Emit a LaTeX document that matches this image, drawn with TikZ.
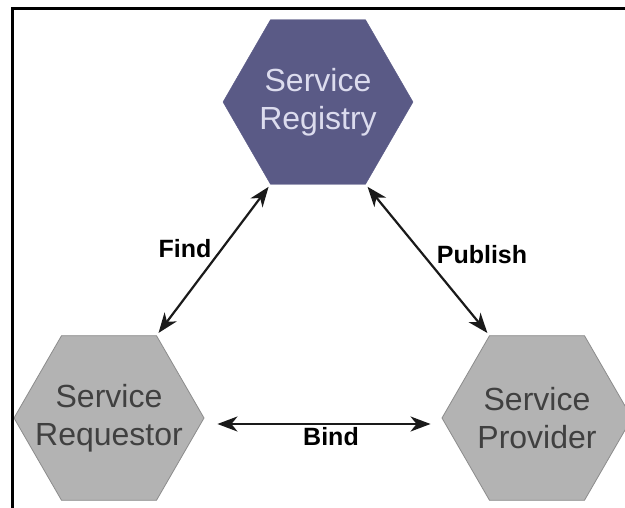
\documentclass[tikz,border=0pt]{standalone}
\usepackage{fontspec}
\setmainfont{Liberation Sans}
\usetikzlibrary{shapes.geometric,arrows.meta}
\definecolor{regfill}{HTML}{5A5A86}
\definecolor{regtext}{HTML}{DCDCEE}
\definecolor{grayfill}{HTML}{B3B3B3}
\definecolor{grayline}{HTML}{8C8C8C}
\definecolor{graytext}{HTML}{404040}
\definecolor{arrowcol}{HTML}{1A1A1A}
\begin{document}
\begin{tikzpicture}[x=1pt,y=-1pt,
  hexa/.style={regular polygon, regular polygon sides=6, minimum size=190pt, inner sep=0pt},
  hextext/.style={align=center, font=\fontsize{32}{38}\selectfont},
  reg/.style={hexa, fill=regfill, draw=regfill},
  grayhex/.style={hexa, fill=grayfill, draw=grayline, line width=0.8pt},
  conn/.style={draw=arrowcol, line width=2.2pt, {Stealth[length=20pt,width=15pt,inset=6pt]}-{Stealth[length=20pt,width=15pt,inset=6pt]}},
  lbl/.style={font=\bfseries\fontsize{25}{30}\selectfont, text=black}]
\useasboundingbox (0,0) rectangle (625,508);
\fill[white] (-20,-20) rectangle (650,530);
\node[reg, label={[hextext, text=regtext]center:Service\\Registry}] (registry) at (318,102) {};
\node[grayhex, label={[hextext, text=graytext]center:Service\\Requestor}] (requestor) at (109,418) {};
\node[grayhex, label={[hextext, text=graytext]center:Service\\Provider}] (provider) at (537,418) {};
\draw[conn, shorten <=3pt, shorten >=3pt] (registry.240) -- (requestor.60);
\draw[conn, shorten <=3pt, shorten >=3pt] (registry.300) -- (provider.120);
\draw[conn, shorten <=13pt, shorten >=11pt] ([yshift=-6pt]requestor.east) -- ([yshift=-6pt]provider.west);
\node[lbl] (find) at (185,249) {Find};
\node[lbl] (publish) at (482,255) {Publish};
\node[lbl] (bind) at (331,437) {Bind};
\draw[line width=3pt] (12,530) -- (12,9) -- (650,9);
\end{tikzpicture}
\end{document}
